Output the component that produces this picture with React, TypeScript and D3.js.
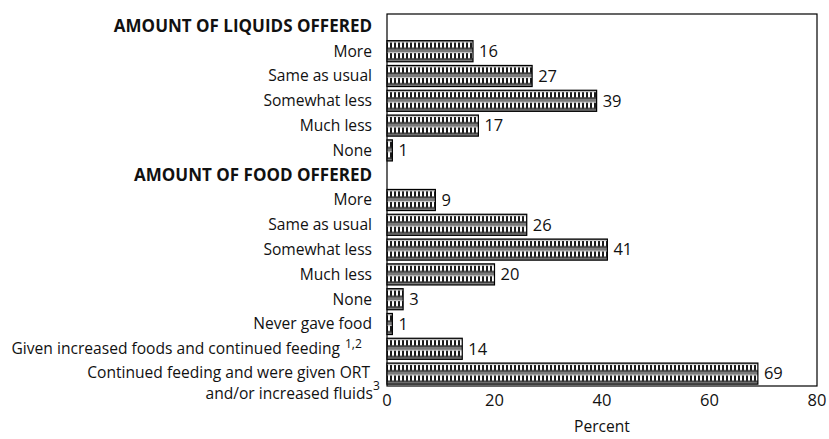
import React from "react";
import * as d3 from "d3";

const categories = [
  "AMOUNT OF LIQUIDS OFFERED",
  "More",
  "Same as usual",
  "Somewhat less",
  "Much less",
  "None",
  "AMOUNT OF FOOD OFFERED",
  "More",
  "Same as usual",
  "Somewhat less",
  "Much less",
  "None",
  "Never gave food",
  "Given increased foods and continued feeding",
  "Continued feeding and were given ORT",
];
const secondLines = ["", "", "", "", "", "", "", "", "", "", "", "", "", "", "and/or increased fluids"];
const superscripts = ["", "", "", "", "", "", "", "", "", "", "", "", "", "1,2", "3"];
const isHeader = [true, false, false, false, false, false, true, false, false, false, false, false, false, false, false];
const values: (number | null)[] = [null, 16, 27, 39, 17, 1, null, 9, 26, 41, 20, 3, 1, 14, 69];
const xTicks = [0, 20, 40, 60, 80];
const xLabel = "Percent";

const W = 829, H = 439;
const M = { left: 387, right: 12, top: 14, bottom: 53 };
const FONT = "'Open Sans', sans-serif";
const FS = 15.6;

export default function App() {
  const x = d3.scaleLinear().domain([0, 80]).range([M.left, W - M.right]);
  const ids = categories.map((_, i) => String(i));
  const y = d3.scaleBand().domain(ids).range([M.top, H - M.bottom]).paddingInner(0.15).paddingOuter(0.075);
  const bw = y.bandwidth();
  const labelX = 372;

  return (
    <svg width={W} height={H} style={{ position: "absolute", left: 0, top: 0, background: "#fff" }} fontFamily={FONT}>
      <defs>
        {values.map((v, i) => {
          if (v == null) return null;
          const y0 = y(ids[i])!;
          const th = bw / 2;
          return (
            <pattern key={i} id={`pat${i}`} patternUnits="userSpaceOnUse" x={M.left} y={y0} width={4} height={th}>
              <rect width={4} height={th} fill="#7a7a7a" />
              <rect y={1} width={4} height={1} fill="#d0d0d0" />
              <rect y={2} width={4} height={th * 0.5} fill="#1a1a1a" />
              <rect x={1} y={2} width={2} height={th * 0.5} fill="#ffffff" />
              <rect y={2 + th * 0.5} width={4} height={1} fill="#1a1a1a" />
            </pattern>
          );
        })}
      </defs>
      <rect x={M.left} y={M.top} width={W - M.right - M.left} height={H - M.bottom - M.top} fill="none" stroke="#000" strokeWidth={1.2} />
      {values.map((v, i) => {
        if (v == null) return null;
        const y0 = y(ids[i])!;
        return (
          <g key={i}>
            <rect x={x(0)} y={y0} width={x(v) - x(0)} height={bw} fill={`url(#pat${i})`} stroke="#000" strokeWidth={1.2} />
            <text x={x(v) + 6} y={y0 + bw / 2} dy="0.35em" fontSize={16.5} fill="#111">{v}</text>
          </g>
        );
      })}
      {categories.map((c, i) => {
        const cy = y(ids[i])! + bw / 2;
        if (isHeader[i]) {
          return (
            <text key={i} x={labelX} y={cy} dy="0.35em" textAnchor="end" fontSize={17} fontWeight="bold" fill="#111">{c}</text>
          );
        }
        if (secondLines[i]) {
          return (
            <g key={i}>
              <text x={labelX - 2} y={cy - 1} dy="0.35em" textAnchor="end" fontSize={FS} fill="#111">{c}</text>
              <text x={labelX + 1} y={cy + 19.5} dy="0.35em" textAnchor="end" fontSize={FS} fill="#111">{secondLines[i]}</text>
              <text x={labelX + 1} y={cy + 12.5} dy="0.35em" textAnchor="start" fontSize={12} fill="#111">{superscripts[i]}</text>
            </g>
          );
        }
        if (superscripts[i]) {
          return (
            <g key={i}>
              <text x={labelX - 32} y={cy} dy="0.35em" textAnchor="end" fontSize={FS} fill="#111">{c}</text>
              <text x={labelX - 27} y={cy - 5} dy="0.35em" textAnchor="start" fontSize={12} fill="#111">{superscripts[i]}</text>
            </g>
          );
        }
        return (
          <text key={i} x={labelX} y={cy} dy="0.35em" textAnchor="end" fontSize={FS} fill="#111">{c}</text>
        );
      })}
      {xTicks.map((t) => (
        <text key={t} x={x(t)} y={400} dy="0.35em" textAnchor="middle" fontSize={16.5} fill="#111">{t}</text>
      ))}
      <text x={x(40)} y={427} dy="0.35em" textAnchor="middle" fontSize={FS} fill="#111">{xLabel}</text>
    </svg>
  );
}
